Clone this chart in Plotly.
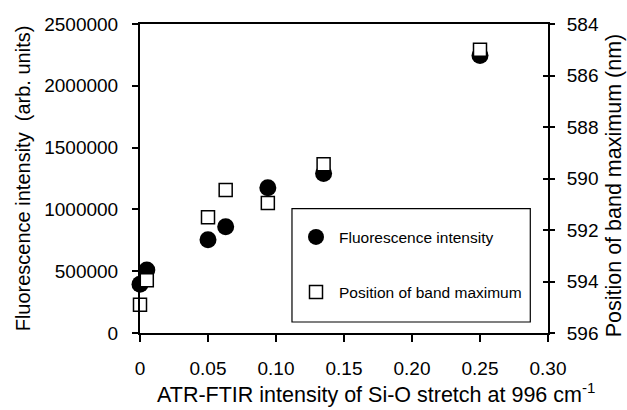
import plotly.graph_objects as go

# ATR-FTIR Si-O stretch intensity (996 cm-1) for each sample
si_o_intensity = [0, 0.005, 0.05, 0.063, 0.094, 0.135, 0.25]
# Fluorescence intensity (arb. units)
fluorescence = [395000, 510000, 755000, 860000, 1175000, 1290000, 2245000]
# Position of the emission band maximum (nm)
band_max = [594.9, 593.95, 591.5, 590.45, 590.95, 589.45, 585.0]

x_ticks = [0, 0.05, 0.10, 0.15, 0.20, 0.25, 0.30]
x_tick_text = ["0", "0.05", "0.10", "0.15", "0.20", "0.25", "0.30"]
y_ticks = [0, 500000, 1000000, 1500000, 2000000, 2500000]
y2_ticks = [584, 586, 588, 590, 592, 594, 596]

FONT = "Liberation Sans, Arial, sans-serif"

fig = go.Figure()

fig.add_trace(go.Scatter(
    x=si_o_intensity, y=fluorescence, mode="markers",
    name="Fluorescence intensity", legendgroup="a",
    marker=dict(symbol="circle", size=17, color="black", line=dict(width=0)),
    cliponaxis=False,
))
fig.add_trace(go.Scatter(
    x=si_o_intensity, y=band_max, mode="markers", yaxis="y2",
    name="Position of band maximum", legendgroup="b",
    marker=dict(symbol="square", size=13, color="white",
                line=dict(width=1.5, color="black")),
    cliponaxis=False,
))
# inner half of the crossing ticks on the right axis
fig.add_trace(go.Scatter(x=[None], y=[None], yaxis="y3", showlegend=False,
                         hoverinfo="skip"))

fig.update_layout(
    width=627, height=410,
    margin=dict(l=140, r=79, t=24, b=77),
    paper_bgcolor="white", plot_bgcolor="white",
    font=dict(family=FONT, color="black"),
    showlegend=True,
    legend=dict(
        x=0.375, y=0.3647, xanchor="left", yanchor="top",
        borderwidth=0, bgcolor="rgba(0,0,0,0)",
        font=dict(size=15.5, family=FONT),
        traceorder="grouped", tracegroupgap=32, itemwidth=36,
    ),
    # legend frame
    shapes=[dict(type="rect", xref="paper", yref="paper",
                 x0=0.3725, x1=0.9566, y0=0.0356, y1=0.4026,
                 line=dict(color="black", width=1.2), fillcolor="white",
                 layer="below")],
    annotations=[
        dict(text="ATR-FTIR intensity of Si-O stretch at 996 cm<sup>-1</sup>",
             xref="paper", yref="paper", x=0.578, y=-0.195,
             xanchor="center", yanchor="middle", showarrow=False,
             font=dict(size=21.5, family=FONT)),
        dict(text="Position of band maximum (nm)",
             xref="paper", yref="paper", x=1.161, y=0.477,
             xanchor="center", yanchor="middle", showarrow=False,
             textangle=-90, font=dict(size=21.5, family=FONT)),
    ],
    xaxis=dict(
        range=[0, 0.3], tickvals=x_ticks, ticktext=x_tick_text,
        showgrid=False, zeroline=False, automargin=False,
        showline=True, linecolor="black", linewidth=2, mirror=True,
        ticks="outside", ticklen=7, tickwidth=2, tickcolor="black",
        tickfont=dict(size=19), ticklabelstandoff=10,
    ),
    yaxis=dict(
        range=[0, 2500000], tickvals=y_ticks, tickformat="d",
        showgrid=False, zeroline=False, automargin=False,
        showline=True, linecolor="black", linewidth=2,
        ticks="outside", ticklen=6, tickwidth=2, tickcolor="black",
        tickfont=dict(size=19), ticklabelstandoff=10,
        title=dict(text="Fluorescence intensity  (arb. units)",
                   font=dict(size=20), standoff=8),
    ),
    yaxis2=dict(
        overlaying="y", side="right", range=[596, 584], tickvals=y2_ticks,
        showgrid=False, zeroline=False, automargin=False,
        showline=True, linecolor="black", linewidth=2,
        ticks="outside", ticklen=5, tickwidth=2, tickcolor="black",
        tickfont=dict(size=19), ticklabelstandoff=8,
    ),
    yaxis3=dict(
        overlaying="y", side="right", range=[596, 584], tickvals=y2_ticks,
        showgrid=False, zeroline=False, showline=False, automargin=False,
        ticks="inside", ticklen=5, tickwidth=2, tickcolor="black",
        showticklabels=False,
    ),
)

fig.write_html("out.html")
